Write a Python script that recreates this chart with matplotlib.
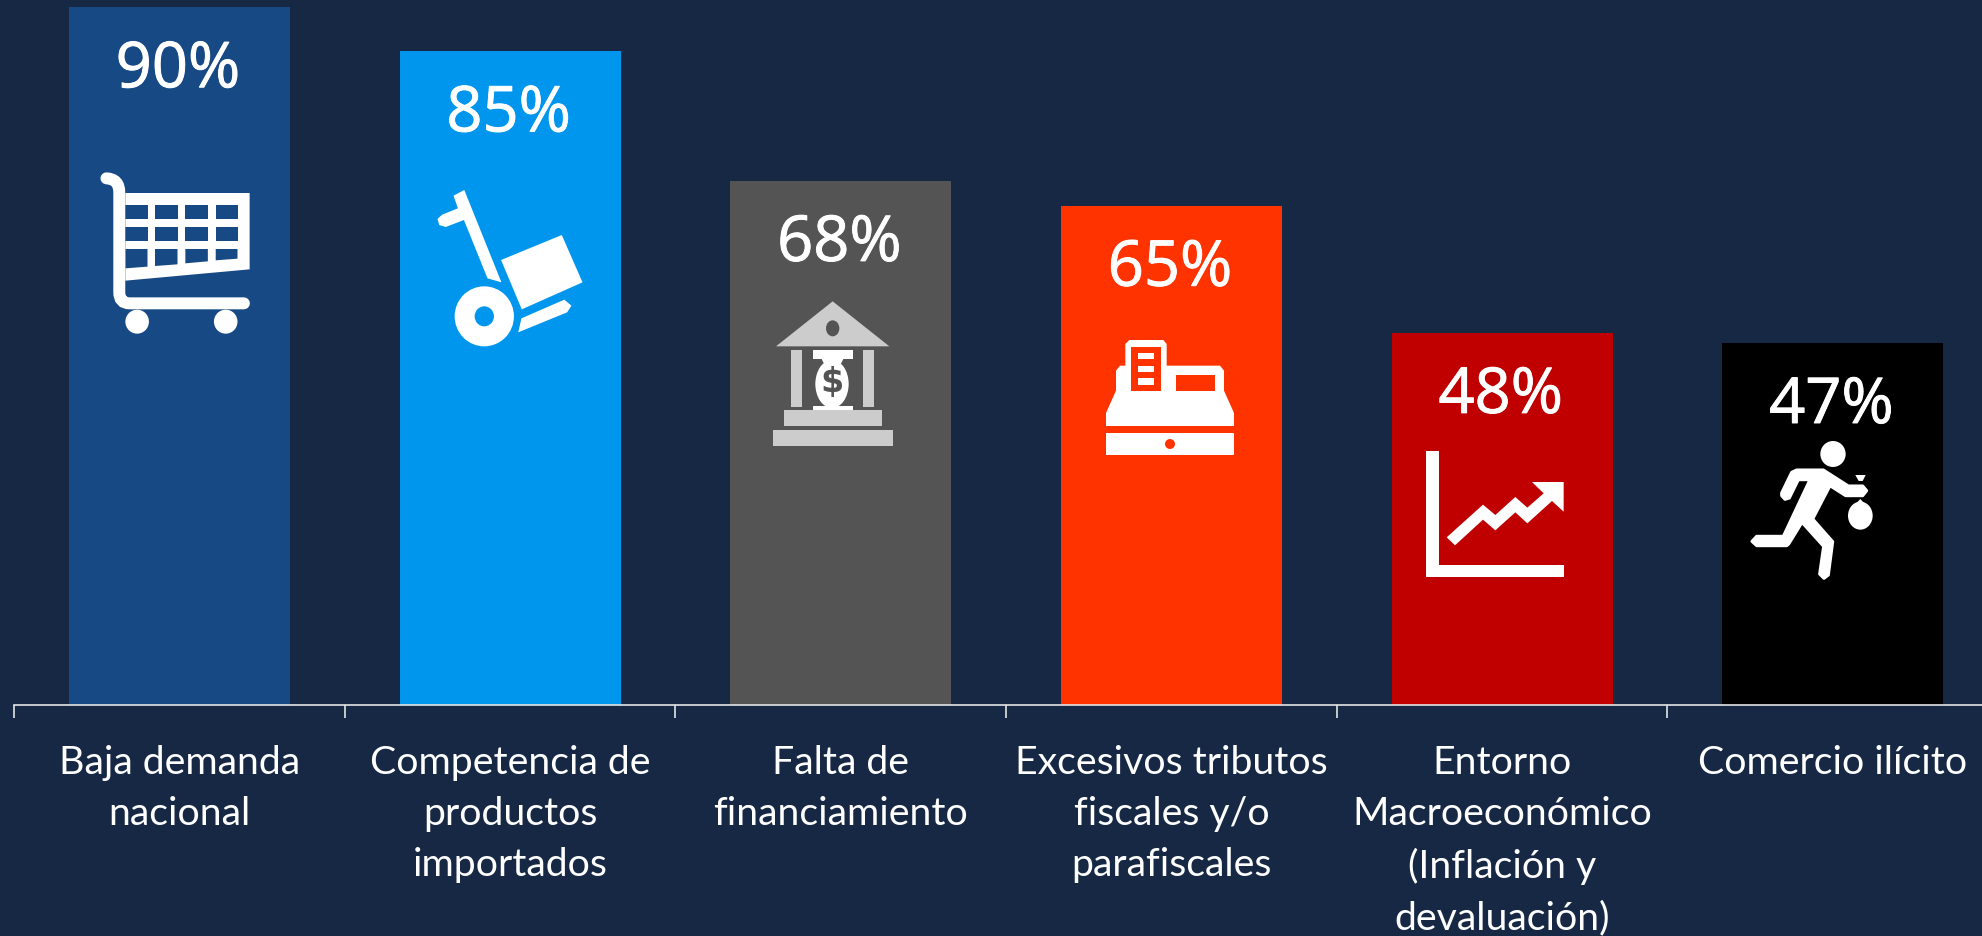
import matplotlib
matplotlib.use("Agg")
import matplotlib.pyplot as plt
import matplotlib.patheffects as pe
from matplotlib.patches import Polygon, Ellipse, PathPatch
from matplotlib.path import Path

categories = ["Baja demanda\nnacional", "Competencia de\nproductos\nimportados",
              "Falta de\nfinanciamiento", "Excesivos tributos\nfiscales y/o\nparafiscales",
              "Entorno\nMacroeconómico\n(Inflación y\ndevaluación)", "Comercio ilícito"]
values = [90.0, 84.3, 67.6, 64.4, 48.0, 46.7]
value_labels = ["90%", "85%", "68%", "65%", "48%", "47%"]
bar_colors = ["#174A84", "#0096EE", "#545454", "#FF3300", "#C00000", "#000000"]
BG = "#172845"
FONT = "Lato"
VALUE_FONT = "Open Sans"

fig = plt.figure(figsize=(19.82, 9.37), dpi=100, facecolor=BG)
ax = fig.add_axes([14/1982, (937-706)/937, 1-14/1982, 706/937], facecolor=BG)
x = list(range(len(values)))
ax.bar(x, values, width=0.668, color=bar_colors, zorder=2)
ax.set_yticks([])
for s in ["top", "left", "right"]:
    ax.spines[s].set_visible(False)
ax.spines["bottom"].set_color("#E4E4E4")
ax.spines["bottom"].set_linewidth(1.2)
ax.set_xticks(x, categories, fontsize=28.3, color="white", family=FONT, linespacing=1.525)
ax.tick_params(axis="x", which="major", length=0, pad=28)
ax.set_xticks([i-0.5 for i in range(6)], minor=True)
ax.tick_params(axis="x", which="minor", length=9.5, width=1.2, color="#E4E4E4")
ax.set_xlim(-0.5, (1982-14)/330.7-0.5)
ax.set_ylim(0, 706/7.755)
for xi, v, lab in zip(x, values, value_labels):
    ax.annotate(lab, (xi, v), xytext=(-1, -46), textcoords="offset points", ha="center",
                va="center", color="white", fontsize=45.5, family=VALUE_FONT,
                fontweight="medium", zorder=3,
                path_effects=[pe.withStroke(linewidth=0.7, foreground="white")])

ov = fig.add_axes([0, 0, 1, 1], zorder=5)
ov.set_xlim(0, 1982); ov.set_ylim(937, 0); ov.axis("off"); ov.patch.set_alpha(0)

def mapper(ox, oy, sx, sy):
    return lambda pts: [(ox+a/sx, oy+b/sy) for a, b in pts]

def poly(m, pts, c="white", lw=0):
    ov.add_patch(Polygon(m(pts), closed=True, fc=c, ec=c if lw else "none", lw=lw,
                         joinstyle="round", zorder=6))

def rect(m, x0, x1, y0, y1, c="white"):
    poly(m, [(x0, y0), (x1, y0), (x1, y1), (x0, y1)], c)

def ell(m, cx, cy, rx, ry, c="white"):
    (px, py), (qx, qy) = m([(cx, cy), (cx+rx, cy+ry)])
    ov.add_patch(Ellipse((px, py), 2*(qx-px), 2*(qy-py), fc=c, ec="none", zorder=6))

# cart
m1 = mapper(60, 150, 2.8, 3.0)
c0 = bar_colors[0]
poly(m1, [(183, 132), (531, 132), (531, 361), (183, 395)])
cols = [(183, 245), (266, 329), (351, 414), (436, 497)]
for a, b in cols:
    rect(m1, a, b, 168, 211, c0)
    rect(m1, a, b, 234, 277, c0)
for (a, b), (ya, yb) in zip(cols, [(358, 353), (351, 346), (343, 337), (334, 329)]):
    poly(m1, [(a, 300), (b, 300), (b, yb), (a, ya)], c0)
verts = m1([(130, 88), (166, 90), (166, 130), (166, 430), (166, 463), (195, 463), (515, 463)])
codes = [Path.MOVETO, Path.CURVE3, Path.CURVE3, Path.LINETO, Path.CURVE3, Path.CURVE3, Path.LINETO]
ov.add_patch(PathPatch(Path(verts, codes), fc="none", ec="white", lw=8.6, capstyle="round", zorder=6))
ell(m1, 216, 518, 33, 36); ell(m1, 464, 518, 33, 36)

# hand truck
poly(m1, [(1102, 140), (1132, 123), (1236, 400), (1197, 388), (1131, 213), (1080, 234),
          (1062, 228), (1057, 210), (1070, 197), (1114, 178)])
ell(m1, 1188, 502, 83, 90)
ell(m1, 1188, 502, 27, 30, bar_colors[1])
poly(m1, [(1235, 333), (1405, 258), (1463, 400), (1293, 481)])
poly(m1, [(1292, 508), (1412, 452), (1432, 470), (1420, 490), (1283, 550)])

# bank
m2 = mapper(740, 280, 3.0, 3.0)
g = "#CCCCCC"; c2 = bar_colors[2]
poly(m2, [(278, 67), (448, 202), (108, 202)], g)
ell(m2, 278, 148, 20, 24, c2)
rect(m2, 154, 186, 212, 384, g); rect(m2, 370, 402, 212, 384, g)
rect(m2, 131, 425, 394, 441, g); rect(m2, 98, 458, 454, 501, g)
rect(m2, 219, 339, 214, 240); rect(m2, 219, 339, 380, 392)
poly(m2, [(245, 240), (310, 240), (300, 260), (255, 260)])
ell(m2, 276, 315, 50, 72)
ov.text(*m2([(276, 308)])[0], "$", color=c2, fontsize=24, fontweight="bold",
        family="DejaVu Sans", ha="center", va="center", zorder=7)

# cash register
c3 = bar_colors[3]
poly(m2, [(1098, 402), (1128, 335), (1128, 275), (1140, 260), (1156, 260), (1156, 195), (1168, 183),
          (1270, 183), (1280, 195), (1280, 260), (1440, 260), (1452, 275), (1452, 335), (1482, 402),
          (1482, 441), (1098, 441)])
rect(m2, 1174, 1262, 203, 337, c3)
for a, b in [(222, 240), (261, 279), (298, 318)]:
    rect(m2, 1193, 1243, a, b)
rect(m2, 1309, 1424, 289, 337, c3)
rect(m2, 1098, 1482, 463, 528)
ell(m2, 1290, 495, 15, 15, c3)

# trend
m3 = mapper(1400, 420, 3.0, 3.0)
poly(m3, [(79, 97), (117, 97), (117, 438), (491, 438), (491, 473), (79, 473)])
poly(m3, [(140, 355), (249, 257), (286, 288), (346, 234), (382, 266), (431, 223), (396, 189), (491, 189),
          (491, 278), (456, 246), (382, 313), (346, 280), (286, 334), (249, 302), (165, 379)])

# runner
ell(m3, 1299, 105, 38, 39)
poly(m3, [(1190, 153), (1270, 153), (1345, 201), (1388, 201), (1400, 215), (1388, 230), (1337, 230),
          (1290, 200), (1238, 300), (1298, 368), (1285, 468), (1272, 478), (1259, 465), (1271, 382),
          (1206, 310), (1166, 375), (1160, 380), (1070, 380), (1056, 367), (1070, 352), (1150, 352),
          (1230, 182), (1195, 182), (1168, 237), (1155, 241), (1145, 230), (1145, 222), (1175, 160)],
     lw=2.2)
ell(m3, 1381, 290, 37, 42)
poly(m3, [(1366, 168), (1397, 168), (1388, 186), (1376, 186)])
poly(m3, [(1381, 240), (1398, 258), (1364, 258)])

fig.savefig("out.png", dpi=100, facecolor=BG)
